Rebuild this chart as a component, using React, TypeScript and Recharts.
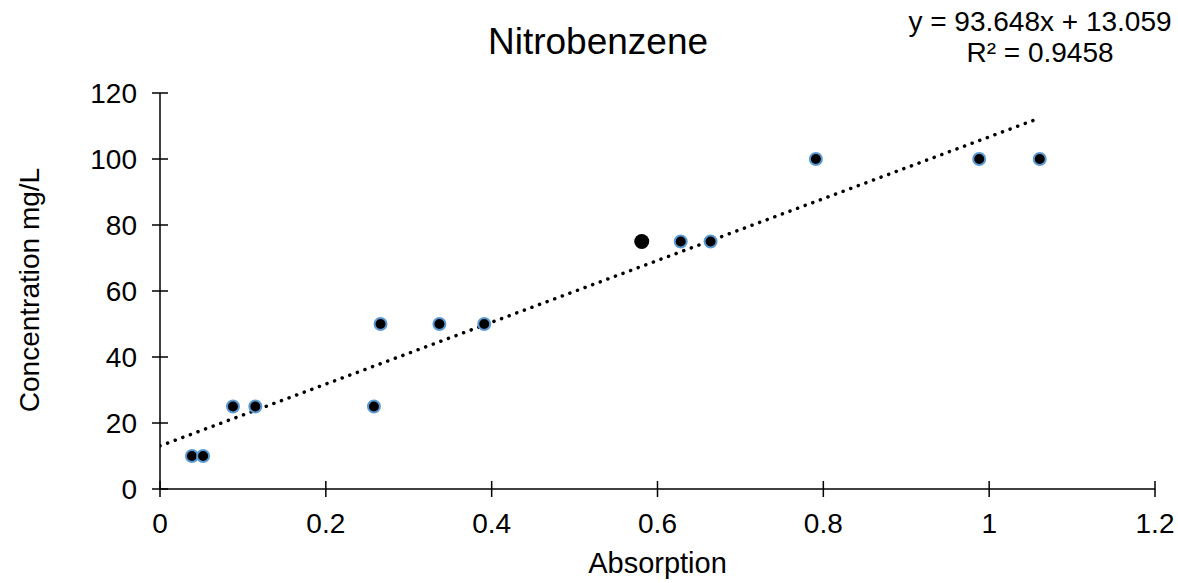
import React from 'react';
import { ScatterChart, Scatter, XAxis, YAxis } from 'recharts';

const absorption = [0.0385, 0.052, 0.088, 0.115, 0.258, 0.266, 0.337, 0.391, 0.628, 0.664, 0.791, 0.988, 1.061];
const concentration = [10, 10, 25, 25, 25, 50, 50, 50, 75, 75, 100, 100, 100];
const highlightX = [0.581];
const highlightY = [75];
const xTicks = [0, 0.2, 0.4, 0.6, 0.8, 1, 1.2];
const yTicks = [0, 20, 40, 60, 80, 100, 120];
const slope = 93.648;
const intercept = 13.059;
const trendX = [0, 1.058];

const points = absorption.map((x, i) => ({ x, y: concentration[i] }));
const highlight = highlightX.map((x, i) => ({ x, y: highlightY[i] }));
const trend = trendX.map(x => ({ x, y: slope * x + intercept }));

const FONT = 'Liberation Sans, Arial, sans-serif';
const TICK_SIZE = 8;
const TICK_MARGIN = 4;

const XTick = (props: any) => {
  const { x, y, payload } = props;
  const axisY = y - TICK_SIZE - TICK_MARGIN;
  return (
    <g>
      <line x1={x} x2={x} y1={axisY - 8} y2={axisY + 8} stroke="#000" strokeWidth={1.5} />
      <text x={x} y={axisY + 34} textAnchor="middle" dominantBaseline="central" fontSize={28} fontFamily={FONT} fill="#000">
        {payload.value}
      </text>
    </g>
  );
};

const YTick = (props: any) => {
  const { x, y, payload } = props;
  const axisX = x + TICK_SIZE + TICK_MARGIN;
  return (
    <g>
      <line x1={axisX - 8} x2={axisX + 8} y1={y} y2={y} stroke="#000" strokeWidth={1.5} />
      <text x={axisX - 23} y={y} textAnchor="end" dominantBaseline="central" fontSize={28} fontFamily={FONT} fill="#000">
        {payload.value}
      </text>
    </g>
  );
};

const Dot = (props: any) => (
  <circle cx={props.cx} cy={props.cy} r={6} fill="#000" stroke="#5B9BD5" strokeWidth={2} />
);

const BigDot = (props: any) => (
  <circle cx={props.cx} cy={props.cy} r={7.5} fill="#000" />
);

export default function App() {
  return (
    <div style={{ position: 'absolute', left: 0, top: 0, width: 1178, height: 583, background: '#fff', fontFamily: FONT }}>
      <div style={{ position: 'absolute', left: 0, width: 1196, top: 21, textAlign: 'center', fontSize: 37, lineHeight: '42px', color: '#000' }}>
        Nitrobenzene
      </div>
      <div style={{ position: 'absolute', left: 900, width: 280, top: 6, textAlign: 'center', fontSize: 28, lineHeight: '31px', color: '#000' }}>
        <div>y = 93.648x + 13.059</div>
        <div>R² = 0.9458</div>
      </div>
      <ScatterChart width={1178} height={583} margin={{ top: 93, right: 23, bottom: 34, left: 100 }}>
        <XAxis
          type="number"
          dataKey="x"
          domain={[0, 1.2]}
          ticks={xTicks}
          height={60}
          tickSize={TICK_SIZE}
          tickMargin={TICK_MARGIN}
          tickLine={false}
          axisLine={{ stroke: '#000', strokeWidth: 1.5 }}
          tick={<XTick />}
          interval={0}
          allowDataOverflow
          label={{ value: 'Absorption', position: 'insideBottom', offset: -24, fontSize: 29, fontFamily: FONT, fill: '#000' }}
        />
        <YAxis
          type="number"
          dataKey="y"
          domain={[0, 120]}
          ticks={yTicks}
          width={60}
          tickSize={TICK_SIZE}
          tickMargin={TICK_MARGIN}
          tickLine={false}
          axisLine={{ stroke: '#000', strokeWidth: 1.5 }}
          tick={<YTick />}
          interval={0}
          allowDataOverflow
        />
        <Scatter
          data={trend}
          line={{ stroke: '#000', strokeWidth: 3.5, strokeDasharray: '0.1 8', strokeLinecap: 'round' }}
          shape={() => null}
          isAnimationActive={false}
        />
        <Scatter data={points} shape={<Dot />} isAnimationActive={false} />
        <Scatter data={highlight} shape={<BigDot />} isAnimationActive={false} />
      </ScatterChart>
      <div
        style={{
          position: 'absolute',
          left: 30,
          top: 290,
          transform: 'translate(-50%, -50%) rotate(-90deg)',
          whiteSpace: 'nowrap',
          fontSize: 28,
          color: '#000',
        }}
      >
        Concentration mg/L
      </div>
    </div>
  );
}
